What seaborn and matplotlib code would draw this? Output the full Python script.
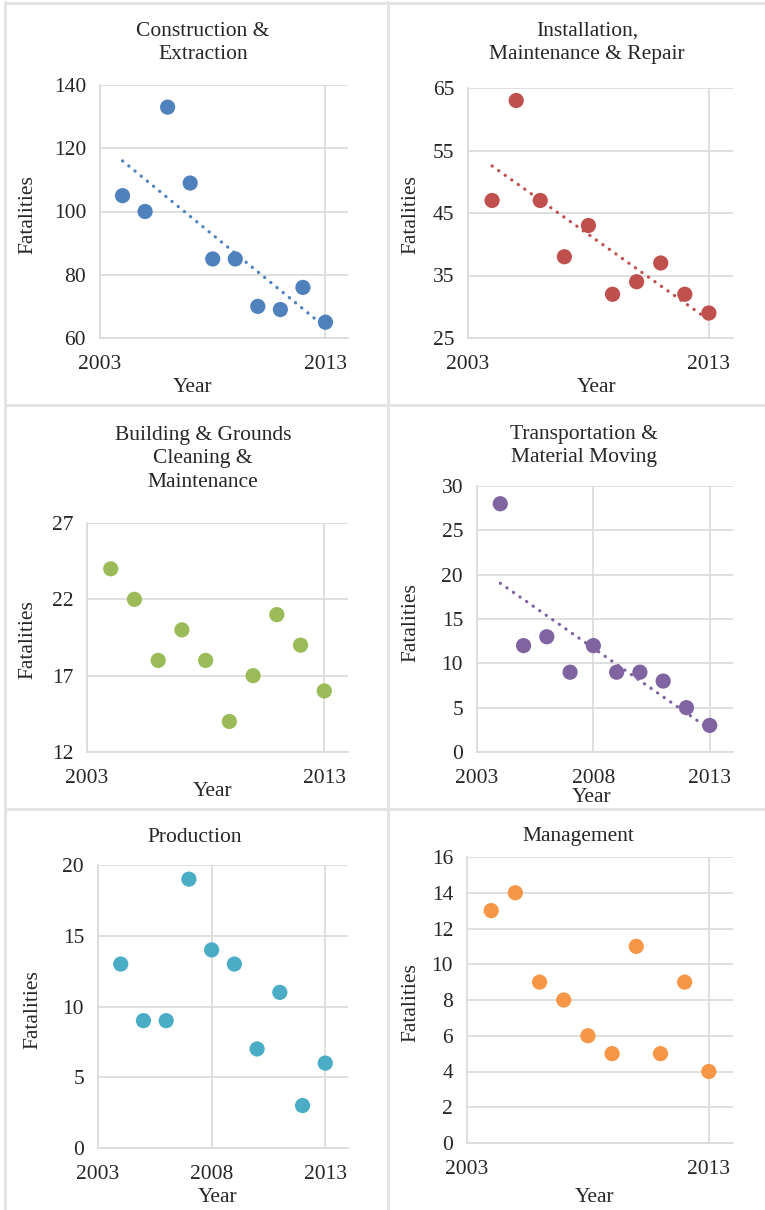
import numpy as np
import matplotlib
matplotlib.use('Agg')
import matplotlib.pyplot as plt
from matplotlib.lines import Line2D
import seaborn as sns

sns.set_style('white')
plt.rcParams['font.family'] = ['Liberation Serif', 'DejaVu Serif']

# fatalities by occupation group, 2004-2013
years = [2004, 2005, 2006, 2007, 2008, 2009, 2010, 2011, 2012, 2013]
construction = [105, 100, 133, 109, 85, 85, 70, 69, 76, 65]
installation = [47, 63, 47, 38, 43, 32, 34, 37, 32, 29]
building = [24, 22, 18, 20, 18, 14, 17, 21, 19, 16]
transport = [28, 12, 13, 9, 12, 9, 9, 8, 5, 3]
production = [13, 9, 9, 19, 14, 13, 7, 11, 3, 6]
management = [13, 14, 9, 8, 6, 5, 11, 5, 9, 4]

titles = ['Construction &\nExtraction',
          'Installation,\nMaintenance & Repair',
          'Building & Grounds\nCleaning &\nMaintenance',
          'Transportation &\nMaterial Moving',
          'Production',
          'Management']
colors = ['#4F81BD', '#C0504D', '#9BBB59', '#8064A2', '#4BACC6', '#F79646']
yticks_list = [[60, 80, 100, 120, 140],
               [25, 35, 45, 55, 65],
               [12, 17, 22, 27],
               [0, 5, 10, 15, 20, 25, 30],
               [0, 5, 10, 15, 20],
               [0, 2, 4, 6, 8, 10, 12, 14, 16]]
xticks_list = [[2003, 2013], [2003, 2013], [2003, 2013],
               [2003, 2008, 2013], [2003, 2008, 2013], [2003, 2013]]
trend = [True, True, False, True, False, False]
series = [construction, installation, building, transport, production, management]

W, H = 765, 1210
# layout in pixels: axes (left, top, right, bottom), title centre, Year centre, Fatalities centre
layout = [
    ((100, 85, 348, 338), (203, 43), (193, 387), (28, 215)),
    ((468, 88, 733, 338), (587, 43), (597, 388), (411, 215)),
    ((87, 523, 348, 752), (203, 459), (213, 792), (28, 640)),
    ((477, 486, 733, 752), (584, 446), (592, 798), (411, 623)),
    ((98, 865, 348, 1148), (195, 837), (218, 1197), (33, 1010)),
    ((467, 857, 733, 1143), (578, 837), (595, 1197), (411, 1003)),
]

fig = plt.figure(figsize=(W / 100, H / 100), dpi=100)
grid_c = '#DCDCDC'
fs = 15.5

for i in range(6):
    (l, t, r, b), tpos, ypos, fpos = layout[i]
    ax = fig.add_axes([l / W, (H - b) / H, (r - l) / W, (b - t) / H])
    vals = series[i]
    if trend[i]:
        sns.regplot(x=years, y=vals, ax=ax, scatter=False, ci=None, color=colors[i],
                    line_kws=dict(lw=2.3, linestyle=(0, (0.1, 2.4)), dash_capstyle='round', zorder=2))
    sns.scatterplot(x=years, y=vals, ax=ax, s=120, color=colors[i], edgecolor='none',
                    linewidth=0, zorder=3)
    ax.set_xlim(2003, 2014)
    yt = yticks_list[i]
    ax.set_ylim(yt[0], yt[-1])
    ax.set_yticks(yt)
    ax.set_xticks(xticks_list[i])
    ax.tick_params(axis='both', length=0, labelsize=fs)
    ax.tick_params(axis='x', pad=12)
    ax.tick_params(axis='y', pad=10)
    ax.set_xlabel('')
    ax.set_ylabel('')
    ax.grid(True, color=grid_c, lw=1.3)
    ax.set_axisbelow(True)
    for s in ['top', 'right']:
        ax.spines[s].set_visible(False)
    for s in ['left', 'bottom']:
        ax.spines[s].set_color(grid_c)
        ax.spines[s].set_linewidth(1.3)
    fig.text(tpos[0] / W, 1 - tpos[1] / H, titles[i], ha='center', va='center',
             fontsize=fs, linespacing=1.3)
    fig.text(ypos[0] / W, 1 - ypos[1] / H, 'Year', ha='center', va='center', fontsize=fs)
    fig.text(fpos[0] / W, 1 - fpos[1] / H, 'Fatalities', ha='center', va='center',
             fontsize=fs, rotation=90)

# panel borders
bc = '#E4E4E4'
fig.add_artist(Line2D([5 / W, 5 / W], [0, 1 - 2 / H], color=bc, lw=2.2))
fig.add_artist(Line2D([5 / W, 1], [1 - 2.5 / H, 1 - 2.5 / H], color=bc, lw=2.2))
fig.add_artist(Line2D([388 / W, 388 / W], [0, 1 - 2 / H], color=bc, lw=2.2))
for yy in [405, 809]:
    fig.add_artist(Line2D([5 / W, 1], [1 - yy / H, 1 - yy / H], color=bc, lw=2.2))

plt.savefig('out.png', dpi=100)
